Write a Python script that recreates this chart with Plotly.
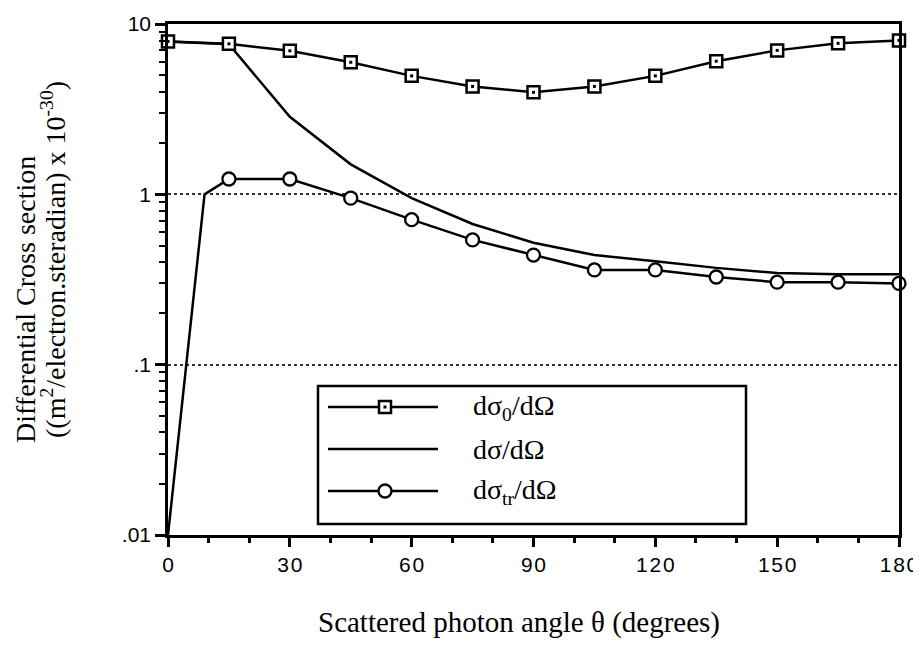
import plotly.graph_objects as go

# ---- data ----
angles = [0, 15, 30, 45, 60, 75, 90, 105, 120, 135, 150, 165, 180]
sigma0 = [7.9, 7.65, 6.96, 5.96, 4.96, 4.3, 3.97, 4.3, 4.96, 6.05, 7.0, 7.7, 8.0]
sigma_total = [7.9, 7.6, 2.85, 1.5, 0.95, 0.67, 0.52, 0.44, 0.405, 0.37, 0.345, 0.34, 0.34]
tr_angles = [0, 9, 15, 30, 45, 60, 75, 90, 105, 120, 135, 150, 165, 180]
sigma_tr = [0.01, 1.0, 1.23, 1.23, 0.95, 0.71, 0.54, 0.44, 0.36, 0.36, 0.327, 0.305, 0.305, 0.30]
tr_has_marker = [0, 0, 1, 1, 1, 1, 1, 1, 1, 1, 1, 1, 1, 1]

x_tickvals = [0, 30, 60, 90, 120, 150, 180]
x_ticktext = ["0", "3\u200a0", "6\u200a0", "9\u200a0", "1\u200a2\u200a0", "1\u200a5\u200a0", "1\u200a8\u200a0"]
y_tickvals = [0.01, 0.1, 1, 10]
y_ticktext = [".01", ".1", "1", "10"]
y_minor = [m * 10 ** e for e in (-2, -1, 0) for m in range(2, 10)]

legend_labels = ["dσ<sub>0</sub>/dΩ", "dσ/dΩ", "dσ<sub>tr</sub>/dΩ"]

# ---- layout geometry (pixels) ----
W, H = 921, 653
L, R, T, B = 160, 30, 16, 126
pw, ph = W - L - R, H - T - B


def px(xp):
    return (xp - L) / pw


def py(yp):
    return (H - B - yp) / ph


fig = go.Figure()

fig.add_trace(go.Scatter(
    x=angles, y=sigma_total, mode="lines",
    line=dict(color="black", width=2.5), cliponaxis=False, showlegend=False))

# transmitted-series line, then its markers on top (only where the reference shows a circle)
fig.add_trace(go.Scatter(
    x=tr_angles, y=sigma_tr, mode="lines",
    line=dict(color="black", width=2.5), cliponaxis=False, showlegend=False))
fig.add_trace(go.Scatter(
    x=[a for a, m in zip(tr_angles, tr_has_marker) if m],
    y=[v for v, m in zip(sigma_tr, tr_has_marker) if m],
    mode="markers",
    marker=dict(symbol="circle", size=13, color="#ffffff", opacity=1,
                line=dict(color="black", width=2.3)),
    cliponaxis=False, showlegend=False))

fig.add_trace(go.Scatter(
    x=angles, y=sigma0, mode="lines+markers",
    line=dict(color="black", width=2.5),
    marker=dict(symbol="square", size=12, color="white",
                line=dict(color="black", width=2.5)),
    cliponaxis=False, showlegend=False))
fig.add_trace(go.Scatter(
    x=angles, y=sigma0, mode="markers",
    marker=dict(symbol="square", size=3, color="black"),
    cliponaxis=False, showlegend=False))

serif = "Liberation Serif, Times New Roman, serif"
sans = "Liberation Sans, Arial, sans-serif"

fig.update_layout(
    width=W, height=H,
    margin=dict(l=L, r=R, t=T, b=B),
    paper_bgcolor="white", plot_bgcolor="white",
    xaxis=dict(
        range=[0, 180], tickvals=x_tickvals, ticktext=x_ticktext,
        ticks="outside", ticklen=9, tickwidth=2.5, tickcolor="black",
        minor=dict(dtick=10, ticks="outside", ticklen=5, tickwidth=2.5, tickcolor="black", showgrid=False),
        showline=True, linewidth=2.5, linecolor="black", mirror=True,
        showgrid=False, zeroline=False, automargin=False,
        tickfont=dict(family=sans, size=21, color="black"),
    ),
    yaxis=dict(
        type="log", range=[-2, 1], tickvals=y_tickvals, ticktext=y_ticktext,
        ticks="outside", ticklen=10, tickwidth=2.5, tickcolor="black",
        minor=dict(tickvals=y_minor, ticks="outside", ticklen=6, tickwidth=2, tickcolor="black", showgrid=False),
        showline=True, linewidth=2.5, linecolor="black", mirror=True,
        showgrid=True, gridcolor="#333", gridwidth=2, griddash="dot",
        zeroline=False, automargin=False,
        tickfont=dict(family=sans, size=21, color="black"),
    ),
)

annotations = []
# axis titles
annotations.append(dict(
    text="Scattered photon angle θ (degrees)", x=px(511), y=py(614), xref="paper", yref="paper",
    showarrow=False, font=dict(family=serif, size=29, color="black"), xanchor="center", yanchor="middle"))
annotations.append(dict(
    text="Differential Cross section", x=px(17), y=py(292), xref="paper", yref="paper",
    showarrow=False, textangle=-90, font=dict(family=serif, size=28, color="black"),
    xanchor="center", yanchor="middle"))
annotations.append(dict(
    text="((m<sup>2</sup>/electron.steradian) x 10<sup>-30</sup>)", x=px(45), y=py(252),
    xref="paper", yref="paper", showarrow=False, textangle=-90,
    font=dict(family=serif, size=28, color="black"), xanchor="center", yanchor="middle"))

# legend (drawn manually)
shapes = []
shapes.append(dict(type="rect", xref="paper", yref="paper", x0=px(310), x1=px(738), y0=py(516), y1=py(378),
                   line=dict(color="black", width=2.5), fillcolor="white", layer="above"))
rows = [399, 441, 483]
for i, (ry, lab) in enumerate(zip(rows, legend_labels)):
    shapes.append(dict(type="line", xref="paper", yref="paper", x0=px(320), x1=px(430), y0=py(ry), y1=py(ry),
                       line=dict(color="black", width=2.5), layer="above"))
    if i == 0:
        shapes.append(dict(type="rect", xref="paper", yref="paper", xsizemode="pixel", ysizemode="pixel",
                           xanchor=px(377), yanchor=py(ry), x0=-6, x1=6, y0=-6, y1=6,
                           fillcolor="white", line=dict(color="black", width=2.5), layer="above"))
        shapes.append(dict(type="rect", xref="paper", yref="paper", xsizemode="pixel", ysizemode="pixel",
                           xanchor=px(377), yanchor=py(ry), x0=-1.5, x1=1.5, y0=-1.5, y1=1.5,
                           fillcolor="black", line=dict(color="black", width=0), layer="above"))
    if i == 2:
        shapes.append(dict(type="circle", xref="paper", yref="paper", xsizemode="pixel", ysizemode="pixel",
                           xanchor=px(377), yanchor=py(ry), x0=-6.5, x1=6.5, y0=-6.5, y1=6.5,
                           fillcolor="white", line=dict(color="black", width=2.3), layer="above"))
    annotations.append(dict(text=lab, x=px(463), y=py(ry), xref="paper", yref="paper", showarrow=False,
                            xanchor="left", yanchor="middle", font=dict(family=serif, size=28, color="black")))

fig.update_layout(shapes=shapes, annotations=annotations)

fig.write_html("out.html")
